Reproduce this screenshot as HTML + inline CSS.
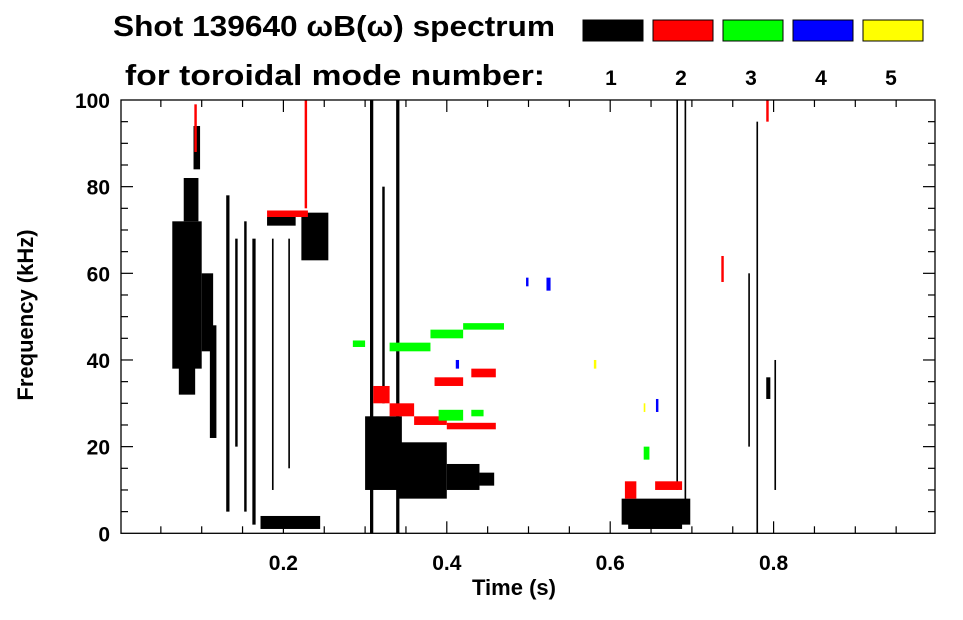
<!DOCTYPE html>
<html><head><meta charset="utf-8"><style>
body{margin:0;background:#fff;font-family:"Liberation Sans",sans-serif}
svg text{font-family:"Liberation Sans",sans-serif;font-weight:bold}
</style></head><body>
<svg id="c" width="963" height="615" xmlns="http://www.w3.org/2000/svg">
<text x="113" y="36" font-size="29" textLength="442" lengthAdjust="spacingAndGlyphs">Shot 139640 ωB(ω) spectrum</text>
<text x="125" y="85" font-size="29" textLength="420" lengthAdjust="spacingAndGlyphs">for toroidal mode number:</text>
<g id="legend"></g>
<g id="marks" clip-path="url(#clp)"></g>
<defs><clipPath id="clp"><rect x="121" y="100" width="814" height="433"/></clipPath></defs>
<g id="axes"></g>
<text x="514" y="595" font-size="22" text-anchor="middle">Time (s)</text>
<text transform="translate(33,315) rotate(-90)" font-size="22" text-anchor="middle">Frequency (kHz)</text>
</svg>
<script>
const modes=[1,2,3,4,5];
const modeColors=['#000','#f00','#0f0','#00f','#ff0'];
const xTicks=[0.2,0.4,0.6,0.8];
const yTicks=[0,20,40,60,80,100];
// blobs: [t0,t1,f0,f1,modeIndex]
const blobs=[
[0.064,0.100,38,72,0],[0.072,0.092,32,45,0],[0.078,0.096,72,82,0],[0.090,0.098,84,94,0],[0.100,0.114,42,60,0],
[0.110,0.118,22,48,0],[0.130,0.134,5,78,0],[0.141,0.144,20,68,0],[0.152,0.155,5,72,0],[0.162,0.166,2,68,0],
[0.172,0.245,1,4,0],[0.180,0.215,71,73,0],[0.222,0.255,63,74,0],[0.186,0.188,10,68,0],[0.206,0.208,15,68,0],
[0.300,0.345,10,27,0],[0.340,0.400,8,21,0],[0.400,0.440,10,16,0],[0.440,0.458,11,14,0],
[0.306,0.310,0,100,0],[0.338,0.342,0,100,0],[0.321,0.324,30,80,0],
[0.614,0.698,2,8,0],[0.622,0.688,1,4,0],[0.681,0.683,10,100,0],[0.691,0.693,5,100,0],
[0.791,0.796,31,36,0],[0.779,0.781,0,95,0],[0.801,0.803,10,40,0],[0.769,0.771,20,60,0],
[0.310,0.330,30,34,1],[0.330,0.360,27,30,1],[0.360,0.400,25,27,1],[0.400,0.460,24,25.5,1],
[0.385,0.420,34,36,1],[0.430,0.460,36,38,1],[0.091,0.094,88,99,1],[0.180,0.230,73,74.5,1],
[0.226,0.229,75,100,1],[0.618,0.632,8,12,1],[0.655,0.688,10,12,1],[0.736,0.739,58,64,1],[0.791,0.794,95,100,1],
[0.285,0.300,43,44.5,2],[0.330,0.380,42,44,2],[0.380,0.420,45,47,2],[0.420,0.470,47,48.5,2],[0.390,0.420,26,28.5,2],[0.430,0.445,27,28.5,2],[0.641,0.648,17,20,2],
[0.497,0.500,57,59,3],[0.522,0.527,56,59,3],[0.411,0.415,38,40,3],[0.656,0.659,28,31,3],
[0.580,0.583,38,40,4],[0.641,0.643,28,30,4]
];
const SVGNS='http://www.w3.org/2000/svg';
const X0=120,X1=937,Y0=533.3,Y1=100;
const xs=t=>X0+(X1-X0)*t;
const ys=f=>Y0-(Y0-Y1)*f/100;
function mk(tag,attrs,parent){const e=document.createElementNS(SVGNS,tag);for(const k in attrs)e.setAttribute(k,attrs[k]);parent.appendChild(e);return e;}
const marks=document.getElementById('marks');
blobs.forEach((b,i)=>{
 const r=mk('rect',{x:xs(b[0]),y:ys(b[3]),width:Math.max(1,xs(b[1])-xs(b[0])),height:Math.max(1,ys(b[2])-ys(b[3])),fill:modeColors[b[4]]},marks);
 
 
});
const axes=document.getElementById('axes');
mk('rect',{x:121,y:100,width:814,height:433.3,fill:'none',stroke:'#000','stroke-width':1.3},axes);
for(let t=0.05;t<1;t+=0.05){const x=xs(t);const maj=Math.abs(t*5-Math.round(t*5))<1e-6;const L=maj?12:7;
 mk('line',{x1:x,x2:x,y1:Y0,y2:Y0-L,stroke:'#000','stroke-width':1.2},axes);
 mk('line',{x1:x,x2:x,y1:Y1,y2:Y1+L,stroke:'#000','stroke-width':1.2},axes);}
for(let f=5;f<100;f+=5){const y=ys(f);const L=f%20===0?12:7;
 mk('line',{x1:121,x2:121+L,y1:y,y2:y,stroke:'#000','stroke-width':1.2},axes);
 mk('line',{x1:935,x2:935-L,y1:y,y2:y,stroke:'#000','stroke-width':1.2},axes);}
xTicks.forEach(t=>{const e=mk('text',{x:xs(t),y:570,'font-size':21,'text-anchor':'middle'},axes);e.textContent=t.toFixed(1);
 
 });
yTicks.forEach(f=>{const e=mk('text',{x:110,y:ys(f)+8,'font-size':21,'text-anchor':'end'},axes);e.textContent=f;
 
 });
const leg=document.getElementById('legend');
modes.forEach((m,i)=>{const x=583+i*70;
 const r=mk('rect',{x:x,y:20,width:60,height:21,fill:modeColors[i],stroke:'#000','stroke-width':1},leg);
 
 
 const t=mk('text',{x:x+28,y:85,'font-size':21,'text-anchor':'middle'},leg);t.textContent=m;
 
 });
</script>
</body></html>
